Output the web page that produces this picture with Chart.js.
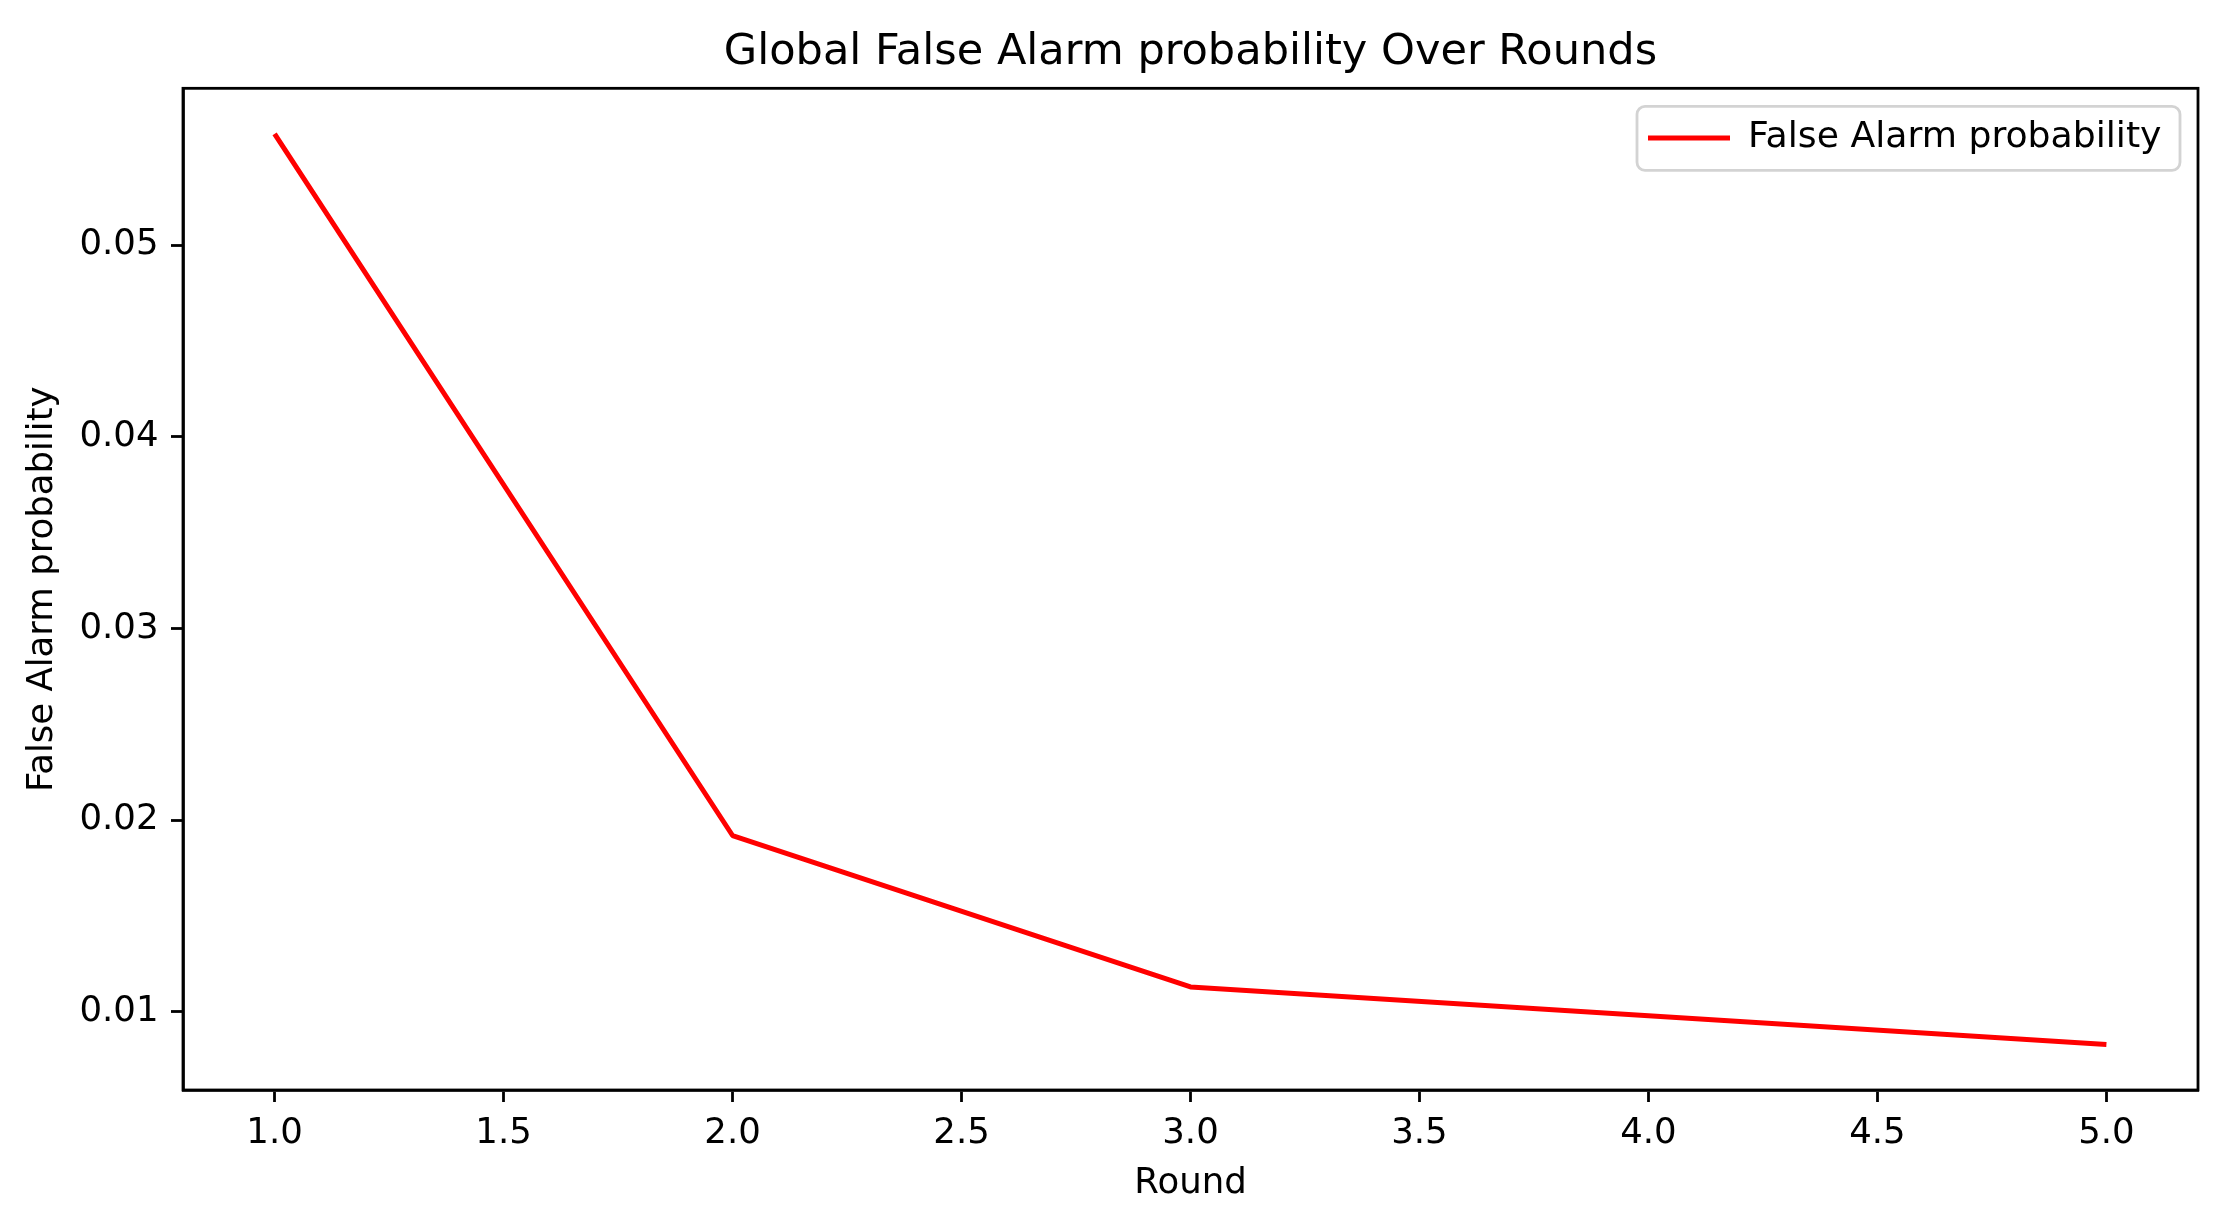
<!DOCTYPE html>
<html>
<head>
<meta charset="utf-8">
<script src="https://cdn.jsdelivr.net/npm/chart.js@4/dist/chart.umd.min.js"></script>
<style>
  html, body { margin: 0; padding: 0; background: #ffffff; }
  #wrap { width: 2226px; height: 1218px; }
</style>
</head>
<body>
<div id="wrap"><canvas id="c" width="2226" height="1218"></canvas></div>
<script>
// ---- data ----
const rounds = [1, 2, 3, 4, 5];
const falseAlarmProbability = [0.0558, 0.0192, 0.0113, 0.0098, 0.0083];
const xTickValues = [1.0, 1.5, 2.0, 2.5, 3.0, 3.5, 4.0, 4.5, 5.0];
const yTickValues = [0.01, 0.02, 0.03, 0.04, 0.05];
const chartTitle = 'Global False Alarm probability Over Rounds';
const xAxisTitle = 'Round';
const yAxisTitle = 'False Alarm probability';
const seriesLabel = 'False Alarm probability';

// matplotlib-style 5% autoscale margins
function withMargins(vals) {
  const lo = Math.min(...vals), hi = Math.max(...vals), r = hi - lo;
  return [lo - 0.05 * r, hi + 0.05 * r];
}
const [xMin, xMax] = withMargins(rounds);
const [yMin, yMax] = withMargins(falseAlarmProbability);

const FONT = "'DejaVu Sans', 'Liberation Sans', sans-serif";
Chart.defaults.font.family = FONT;
Chart.defaults.color = '#000000';

const mplFrame = {
  id: 'mplFrame',
  afterLayout(chart) {
    const lg = chart.legend, ca = chart.chartArea;
    if (!lg || !lg.lineWidths) return;
    const itemLeft = ca.right - 550;
    lg.right = itemLeft + lg.lineWidths[0];
    lg.left = lg.right - lg.width;
    lg.top = ca.top + 21.5;
    lg.bottom = lg.top + 60;
  },
  afterDraw(chart) {
    const ctx = chart.ctx, ca = chart.chartArea;
    ctx.save();
    // legend frame
    const fx = ca.right - 561, fy = ca.top + 18, fw = 543, fh = 64, r = 8;
    ctx.beginPath();
    ctx.moveTo(fx + r, fy);
    ctx.lineTo(fx + fw - r, fy);
    ctx.arcTo(fx + fw, fy, fx + fw, fy + r, r);
    ctx.lineTo(fx + fw, fy + fh - r);
    ctx.arcTo(fx + fw, fy + fh, fx + fw - r, fy + fh, r);
    ctx.lineTo(fx + r, fy + fh);
    ctx.arcTo(fx, fy + fh, fx, fy + fh - r, r);
    ctx.lineTo(fx, fy + r);
    ctx.arcTo(fx, fy, fx + r, fy, r);
    ctx.closePath();
    ctx.strokeStyle = '#d3d3d3';
    ctx.lineWidth = 2.8;
    ctx.stroke();
    // axes spines
    ctx.strokeStyle = '#000000';
    ctx.lineWidth = 2.8;
    ctx.strokeRect(ca.left, ca.top, ca.right - ca.left, ca.bottom - ca.top);
    ctx.restore();
  }
};

new Chart(document.getElementById('c'), {
  type: 'line',
  data: {
    datasets: [{
      label: seriesLabel,
      data: rounds.map((r, i) => ({ x: r, y: falseAlarmProbability[i] })),
      borderColor: '#ff0000',
      backgroundColor: '#ff0000',
      borderWidth: 5,
      borderJoinStyle: 'round',
      borderCapStyle: 'butt',
      pointRadius: 0,
      pointHoverRadius: 0,
      tension: 0,
      fill: false
    }]
  },
  options: {
    responsive: false,
    devicePixelRatio: 1,
    animation: false,
    events: [],
    layout: { padding: { left: 0, right: 28, top: 0, bottom: 0 } },
    plugins: {
      title: {
        display: true,
        text: chartTitle,
        fullSize: false,
        color: '#000000',
        font: { size: 43.1, weight: 'normal', family: FONT, lineHeight: 1.2 },
        padding: { top: 27.4, bottom: 8.2 }
      },
      legend: {
        display: true,
        position: 'top',
        align: 'end',
        fullSize: false,
        maxHeight: 1,
        labels: {
          usePointStyle: true,
          pointStyle: 'line',
          pointStyleWidth: 82,
          boxWidth: 82,
          padding: 10,
          color: '#000000',
          font: { size: 36.2, family: FONT }
        }
      },
      tooltip: { enabled: false }
    },
    scales: {
      x: {
        type: 'linear',
        min: xMin,
        max: xMax,
        afterBuildTicks: (s) => { s.ticks = xTickValues.map(v => ({ value: v })); },
        afterFit: (s) => { s.height = 128; },
        grid: { display: true, drawOnChartArea: false, drawTicks: true, tickLength: 12, tickWidth: 2.8, tickColor: '#000000' },
        border: { display: true, color: '#000000', width: 2.8 },
        ticks: {
          color: '#000000',
          padding: 10,
          maxRotation: 0,
          autoSkip: false,
          font: { size: 35.5, family: FONT },
          callback: (v) => Number(v).toFixed(1)
        },
        title: {
          display: true,
          text: xAxisTitle,
          color: '#000000',
          font: { size: 35.5, family: FONT, lineHeight: 1.2 },
          padding: { top: 0, bottom: 13 }
        }
      },
      y: {
        type: 'linear',
        min: yMin,
        max: yMax,
        afterBuildTicks: (s) => { s.ticks = yTickValues.map(v => ({ value: v })); },
        afterFit: (s) => { s.width = 183; },
        grid: { display: true, drawOnChartArea: false, drawTicks: true, tickLength: 12, tickWidth: 2.8, tickColor: '#000000' },
        border: { display: true, color: '#000000', width: 2.8 },
        ticks: {
          color: '#000000',
          padding: 12.5,
          autoSkip: false,
          font: { size: 35.5, family: FONT },
          callback: (v) => Number(v).toFixed(2)
        },
        title: {
          display: true,
          text: yAxisTitle,
          color: '#000000',
          font: { size: 35.5, family: FONT, lineHeight: 1.2 },
          padding: { top: 21.7, bottom: 0 }
        }
      }
    }
  },
  plugins: [mplFrame]
});
</script>
</body>
</html>
